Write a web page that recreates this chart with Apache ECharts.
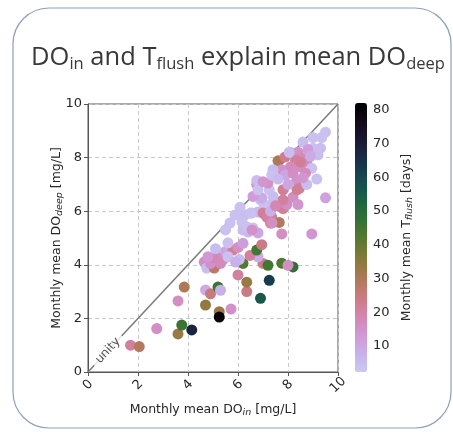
<!DOCTYPE html>
<html>
<head>
<meta charset="utf-8">
<script src="https://cdn.jsdelivr.net/npm/echarts@6/dist/echarts.min.js"></script>
<style>
  html, body { margin: 0; padding: 0; background: #fff; }
  #chart { width: 453px; height: 436px; }
</style>
</head>
<body>
<div id="chart"></div>
<script>
// monthly means: DO_in, DO_deep [mg/L], T_flush [days]
var doIn = [1.7, 2.05, 2.75, 3.6, 3.75, 4.15, 3.6, 3.85, 4.7, 4.7, 4.9, 5.2, 5.3, 5.25, 5.25, 5.72, 6.35, 6.35, 6.0, 7.25,
    6.9, 6.2, 7.0, 7.2, 7.75, 8.2, 8.0, 6.8, 6.48, 6.75, 6.95, 7.75, 8.95, 6.05, 4.65, 4.75, 5.05, 5.15, 5.4, 5.5,
    5.8, 6.0, 5.6, 4.9, 5.0, 5.3, 4.8, 5.6, 5.9, 5.1, 6.2, 5.68, 5.88, 6.08, 6.28, 6.55, 6.8, 5.5, 6.2, 6.4,
    6.6, 6.8, 6.16, 6.36, 6.56, 7.15, 7.3, 7.05, 6.9, 6.75, 7.25, 7.4, 7.0, 7.35, 7.65, 7.2, 7.36, 7.8, 6.5, 6.95,
    6.6, 6.8, 6.75, 9.5, 9.35, 8.6, 9.0, 7.6, 7.88, 8.15, 8.4, 8.55, 8.3, 8.75, 9.0, 9.2, 8.95, 8.5, 8.1, 7.75,
    7.4, 7.9, 8.2, 8.7, 9.15, 8.35, 7.2, 7.0, 7.8, 8.45, 8.2, 8.75, 9.5, 7.4, 7.95, 8.4, 7.8, 8.36, 8.5, 8.05,
    8.8, 8.6, 7.35, 9.3, 8.9, 7.6, 7.3, 7.5, 8.0];
var doDeep = [1.0, 0.95, 1.62, 1.42, 1.75, 1.57, 2.65, 3.17, 3.06, 2.5, 2.92, 3.17, 3.05, 2.25, 2.05, 2.35, 3.0, 3.35, 3.62, 3.42,
    2.75, 4.05, 4.05, 3.98, 4.06, 3.92, 3.98, 4.3, 4.35, 4.55, 4.75, 5.15, 5.15, 4.2, 4.1, 3.88, 3.88, 4.3, 4.18, 4.5,
    4.55, 4.65, 4.82, 4.05, 4.25, 4.05, 4.3, 4.3, 4.1, 4.6, 4.8, 5.56, 5.86, 6.15, 5.86, 5.93, 5.97, 5.3, 5.3, 5.22,
    5.37, 5.19, 5.6, 5.41, 5.3, 5.78, 5.56, 6.25, 6.42, 7.0, 6.8, 6.3, 5.93, 5.78, 5.58, 5.75, 5.56, 6.1, 5.93, 6.5,
    6.55, 6.8, 7.15, 8.95, 8.75, 8.58, 8.75, 7.88, 8.02, 8.18, 8.2, 7.98, 7.9, 7.85, 8.35, 8.1, 7.6, 7.65, 7.65, 7.55,
    7.55, 7.35, 7.42, 7.42, 7.2, 7.15, 7.05, 7.1, 6.8, 6.85, 6.52, 7.0, 6.5, 6.55, 6.25, 6.25, 6.42, 6.8, 7.83, 8.2,
    8.3, 7.25, 7.35, 8.35, 8.05, 7.2, 6.0, 6.2, 7.0];
var tFlush = [21, 29, 16, 33, 46, 68, 16, 30, 9, 34, 25, 46, 8, 33, 80, 15, 24, 33, 21, 62,
    56, 42, 24, 45, 43, 48, 16, 9, 21, 45, 24, 16, 14, 5, 16, 5, 27, 17, 16, 10,
    22, 16, 4, 15, 18, 17, 13, 4, 8, 5, 12, 4, 4, 4, 5, 4, 6, 4, 5, 6,
    4, 10, 4, 4, 15, 23, 22, 4, 5, 15, 4, 5, 22, 21, 29, 20, 16, 22, 4, 9,
    12, 4, 5, 4, 4, 5, 4, 30, 23, 5, 15, 17, 21, 16, 4, 5, 4, 16, 17, 15,
    5, 10, 16, 17, 4, 15, 15, 14, 22, 22, 16, 5, 11, 5, 16, 14, 21, 22, 22, 5,
    12, 14, 4, 5, 9, 6, 8, 18, 10];

var cbarTicks = [10, 20, 30, 40, 50, 60, 70, 80];
var cbarMin = 2.3, cbarMax = 82;
// reversed cubehelix, light end cut off
var cbarColors = ['#cbc9f3', '#c7b3ed', '#cf9cda', '#d48aba', '#d07e93', '#be796a', '#a07949', '#7a7a35', '#547930',
    '#347335', '#1f6642', '#16534c', '#163d4e', '#1a2744', '#1a1530', '#120817', '#000000'];

var points = [];
for (var i = 0; i < doIn.length; i++) {
    points.push([doIn[i], doDeep[i], tFlush[i]]);
}

var myChart = echarts.init(document.getElementById('chart'));

var txt = '#262626';
var nameRich = {
    a: {fontFamily: 'DejaVu Sans', fontSize: 12.5, color: txt},
    i: {fontFamily: 'DejaVu Sans', fontSize: 9.5, fontStyle: 'italic', color: txt, padding: [6, 0, 0, 0]}
};
var option = {
    backgroundColor: '#fff',
    animation: false,
    title: {
        text: '{m|DO}{s|in}{m| and T}{s|flush}{m| explain mean DO}{s|deep}',
        left: 233,
        top: 37,
        textAlign: 'center',
        textStyle: {
            fontWeight: 'normal',
            rich: {
                m: {fontFamily: 'Open Sans', fontWeight: 'normal', fontSize: 25.5, color: '#383838', lineHeight: 32},
                s: {fontFamily: 'Open Sans', fontWeight: 'normal', fontSize: 16.5, color: '#383838', lineHeight: 19, padding: [13, 0, 0, 0]}
            }
        }
    },
    graphic: [{
        type: 'rect',
        shape: {x: 13, y: 8, width: 438, height: 420, r: 36},
        style: {fill: 'none', stroke: '#8da0b6', lineWidth: 1.2},
        silent: true,
        z: -10
    }],
    grid: [
        {left: 88, top: 104, width: 250, height: 268, show: true, borderColor: '#555', borderWidth: 1},
        {left: 355, top: 103, width: 12, height: 269}
    ],
    xAxis: [{
        type: 'value', gridIndex: 0, min: 0, max: 10, interval: 2,
        name: '{a|Monthly mean DO}{i|in}{a| [mg/L]}',
        nameLocation: 'middle', nameGap: 30, nameMoveOverlap: false,
        nameTextStyle: {rich: nameRich},
        axisLine: {lineStyle: {color: '#555'}},
        axisTick: {length: 4, lineStyle: {color: '#555'}},
        splitLine: {lineStyle: {color: '#c8c8c8', type: [4, 3]}},
        axisLabel: {fontFamily: 'DejaVu Sans', fontSize: 13, color: txt, rotate: 45, align: 'center',
            verticalAlign: 'middle', margin: 13}
    }, {
        type: 'value', gridIndex: 1, min: 0, max: 1, show: false
    }],
    yAxis: [{
        type: 'value', gridIndex: 0, min: 0, max: 10, interval: 2,
        name: '{a|Monthly mean DO}{i|deep}{a| [mg/L]}',
        nameLocation: 'middle', nameGap: 23, nameRotate: 90, nameMoveOverlap: false,
        nameTextStyle: {rich: nameRich},
        axisLine: {lineStyle: {color: '#555'}},
        axisTick: {length: 4, lineStyle: {color: '#555'}},
        splitLine: {lineStyle: {color: '#c8c8c8', type: [4, 3]}},
        axisLabel: {fontFamily: 'DejaVu Sans', fontSize: 13, color: txt, margin: 6}
    }, {
        type: 'value', gridIndex: 1, min: cbarMin, max: cbarMax, position: 'right',
        name: '{a|Monthly mean T}{i|flush}{a| [days]}',
        nameLocation: 'middle', nameGap: 32, nameRotate: 90, nameMoveOverlap: false,
        nameTextStyle: {rich: nameRich},
        axisLine: {show: false},
        splitLine: {show: false},
        axisTick: {show: true, length: 4, customValues: cbarTicks, lineStyle: {color: '#555'}},
        axisLabel: {fontFamily: 'DejaVu Sans', fontSize: 13, color: txt, margin: 6, customValues: cbarTicks}
    }],
    visualMap: {
        type: 'continuous',
        seriesIndex: 2,
        dimension: 2,
        min: cbarMin,
        max: cbarMax,
        calculable: false,
        hoverLink: false,
        orient: 'vertical',
        left: 355,
        top: 103,
        padding: 0,
        itemWidth: 12,
        itemHeight: 269,
        text: null,
        showLabel: false,
        inRange: {color: cbarColors}
    },
    series: [{
        type: 'line', xAxisIndex: 0, yAxisIndex: 0,
        data: [[0, 0], [10, 10]],
        symbol: 'none', silent: true,
        lineStyle: {color: '#7a7a7a', width: 1.5},
        z: 1
    }, {
        type: 'scatter', xAxisIndex: 0, yAxisIndex: 0,
        data: [[0.8, 0.8]],
        symbolSize: 0, silent: true,
        label: {show: true, position: 'inside', formatter: 'unity', rotate: 47,
            fontFamily: 'DejaVu Sans', fontSize: 12, color: txt,
            backgroundColor: '#fff', padding: [0, 5, 0, 5]},
        z: 2
    }, {
        type: 'scatter', xAxisIndex: 0, yAxisIndex: 0,
        data: points,
        symbolSize: 11,
        itemStyle: {opacity: 1},
        z: 3
    }]
};

myChart.setOption(option);
window.addEventListener('resize', function () {
    myChart.resize();
});
</script>
</body>
</html>
